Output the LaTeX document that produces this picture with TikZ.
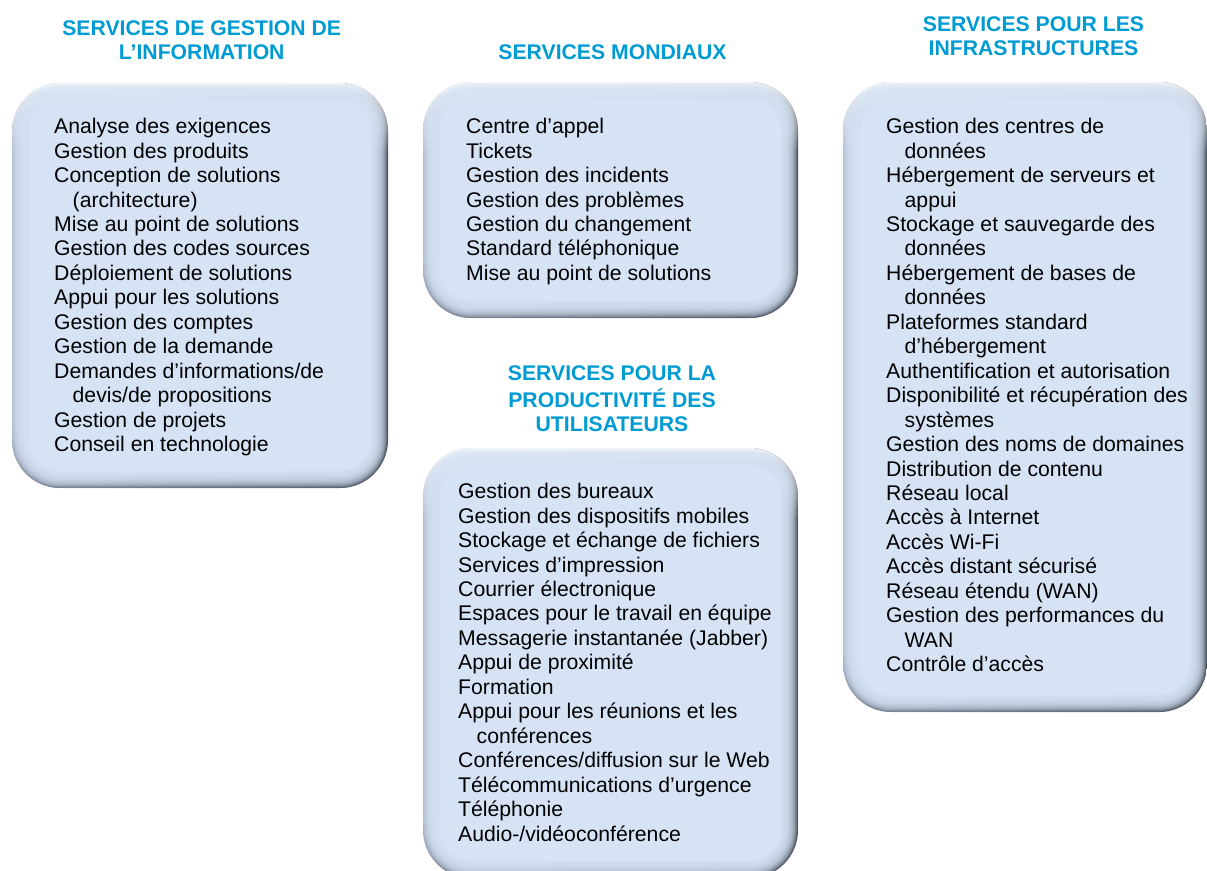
\documentclass[tikz,border=0pt]{standalone}
\usepackage{fontspec}
\setmainfont{Liberation Sans}
\usetikzlibrary{fadings}

\definecolor{boxfill}{HTML}{D6E3F5}
\definecolor{edgedark}{HTML}{4A525E}
\definecolor{edgelight}{HTML}{B2C0D3}
\definecolor{edgehigh}{HTML}{F2F6FB}
\definecolor{edgelow}{HTML}{5C6470}
\definecolor{titleblue}{RGB}{0,155,210}

\newcommand\ind{\hspace*{18.5pt}}

% bevelled rounded panel: x1 y1 x2 y2 (pixel-like units, y downwards;
% the downward y axis turns the fadings over, hence south on top)
\newcommand\bevelbox[4]{%
  \shade[rounded corners=48pt, left color=edgelight, right color=edgedark]
    (#1,#2) rectangle (#3,#4);
  \begin{scope}
    \clip[rounded corners=48pt] (#1,#2) rectangle (#3,#4);
    \fill[edgehigh, path fading=south] (#1,#2) rectangle (#3,#2+70);
    \fill[edgelow, opacity=0.6, path fading=north] (#1,#4-60) rectangle (#3,#4);
  \end{scope}
  \foreach \k [evaluate=\k as \r using 48-\k] in {1,...,17}{
    \fill[boxfill, opacity=0.2, rounded corners=\r pt]
      (#1+\k,#2+\k) rectangle (#3-\k,#4-\k);
  }
  \fill[boxfill, rounded corners=31pt] (#1+17,#2+17) rectangle (#3-17,#4-17);
}

\tikzset{
  paneltitle/.style={anchor=north, inner sep=0pt, align=center, text=titleblue,
    font=\fontsize{21.2}{24}\selectfont\bfseries},
  itemlist/.style={anchor=north west, inner sep=0pt, align=left, text=black,
    font=\fontsize{21.2}{24.45}\selectfont},
}

\begin{document}
\begin{tikzpicture}[x=1pt, y=-1pt]
  \useasboundingbox (0,0) rectangle (1207,870);
  \clip (0,0) rectangle (1207,870);

  % panels
  \bevelbox{12}{83}{388}{488}
  \bevelbox{423}{82}{798}{318}
  \bevelbox{423}{448}{798}{878}
  \bevelbox{843}{82}{1207}{712}

  % panel titles
  \node[paneltitle] (t-info) at (201.7,18.2) {\strut SERVICES DE GESTION DE\\L’INFORMATION};
  \node[paneltitle] (t-mond) at (612.5,42.2) {\strut SERVICES MONDIAUX};
  \node[paneltitle, font=\fontsize{21.2}{23.5}\selectfont\bfseries] (t-prod) at (612,364.2)
    {\strut SERVICES POUR LA\\PRODUCTIVITÉ DES\\UTILISATEURS};
  \node[paneltitle] (t-infra) at (1033.5,14.7) {\strut SERVICES POUR LES\\INFRASTRUCTURES};

  % service lists
  \node[itemlist] (l-info) at (54,116.4) {\strut Analyse des exigences\\
    Gestion des produits\\
    Conception de solutions\\
    \ind(architecture)\\
    Mise au point de solutions\\
    Gestion des codes sources\\
    Déploiement de solutions\\
    Appui pour les solutions\\
    Gestion des comptes\\
    Gestion de la demande\\
    Demandes d’informations/de\\
    \ind devis/de propositions\\
    Gestion de projets\\
    Conseil en technologie};

  \node[itemlist] (l-mond) at (466,116.4) {\strut Centre d’appel\\
    Tickets\\
    Gestion des incidents\\
    Gestion des problèmes\\
    Gestion du changement\\
    Standard téléphonique\\
    Mise au point de solutions};

  \node[itemlist] (l-prod) at (458,481.4) {\strut Gestion des bureaux\\
    Gestion des dispositifs mobiles\\
    Stockage et échange de fichiers\\
    Services d’impression\\
    Courrier électronique\\
    Espaces pour le travail en équipe\\
    Messagerie instantanée (Jabber)\\
    Appui de proximité\\
    Formation\\
    Appui pour les réunions et les\\
    \ind conférences\\
    Conférences/diffusion sur le Web\\
    Télécommunications d’urgence\\
    Téléphonie\\
    Audio-/vidéoconférence};

  \node[itemlist] (l-infra) at (886,116.4) {\strut Gestion des centres de\\
    \ind données\\
    Hébergement de serveurs et\\
    \ind appui\\
    Stockage et sauvegarde des\\
    \ind données\\
    Hébergement de bases de\\
    \ind données\\
    Plateformes standard\\
    \ind d’hébergement\\
    Authentification et autorisation\\
    Disponibilité et récupération des\\
    \ind systèmes\\
    Gestion des noms de domaines\\
    Distribution de contenu\\
    Réseau local\\
    Accès à Internet\\
    Accès Wi-Fi\\
    Accès distant sécurisé\\
    Réseau étendu (WAN)\\
    Gestion des performances du\\
    \ind WAN\\
    Contrôle d’accès};
\end{tikzpicture}
\end{document}
